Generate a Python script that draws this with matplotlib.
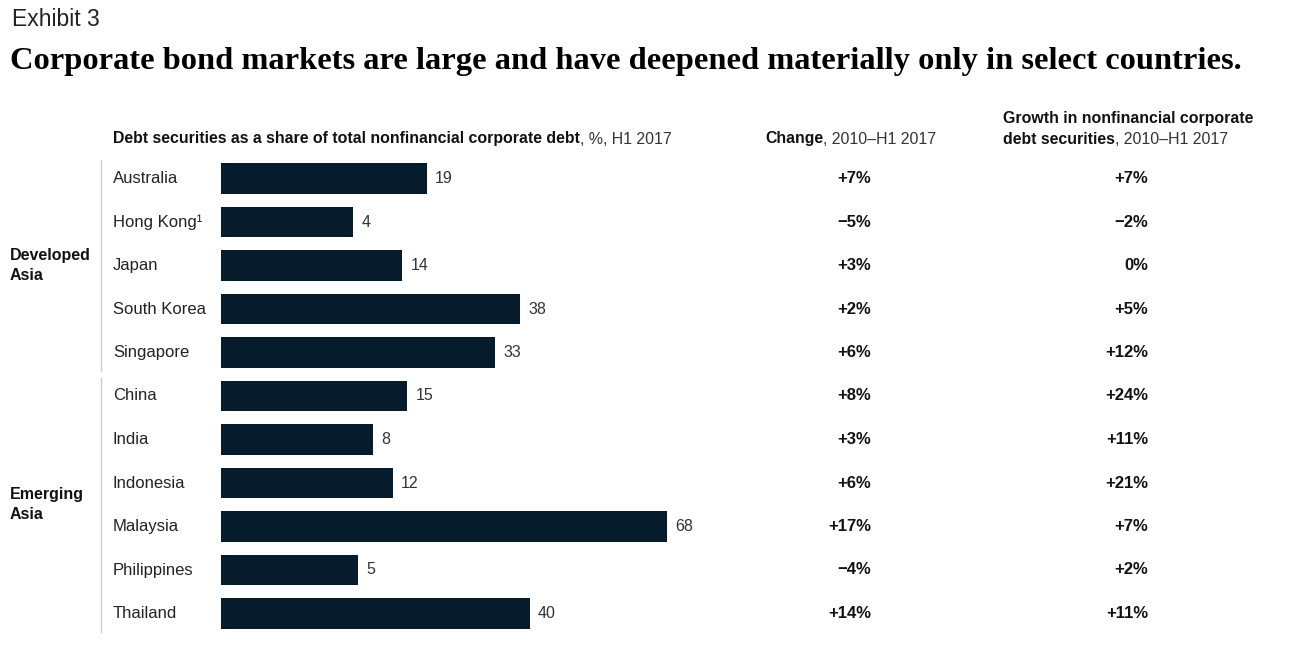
import matplotlib
matplotlib.use("Agg")
import matplotlib.pyplot as plt
import matplotlib.transforms as mtransforms

countries = ["Australia", "Hong Kong¹", "Japan", "South Korea", "Singapore",
             "China", "India", "Indonesia", "Malaysia", "Philippines", "Thailand"]
share = [19, 4, 14, 38, 33, 15, 8, 12, 68, 5, 40]
change = ["+7%", "−5%", "+3%", "+2%", "+6%", "+8%", "+3%", "+6%", "+17%", "−4%", "+14%"]
growth = ["+7%", "−2%", "0%", "+5%", "+12%", "+24%", "+11%", "+21%", "+7%", "+2%", "+11%"]
groups = ["Developed\nAsia", "Emerging\nAsia"]
group_sizes = [5, 6]

W, H = 1306, 656
BAR = "#061c2c"
SANS = ["Liberation Sans", "DejaVu Sans"]
SERIF = ["Liberation Serif", "DejaVu Serif"]
OFFSET = 23.0  # visual baseline offset of bars

fig = plt.figure(figsize=(W / 100, H / 100), dpi=100)
fig.patch.set_facecolor("white")

n = len(countries)
row_px = 43.5
top_c = 178.5
ax_top = top_c - row_px / 2
ax_h = row_px * n
ax = fig.add_axes([221 / W, 1 - (ax_top + ax_h) / H, (667 - 221) / W, ax_h / H])
ax.barh(range(n), [v + OFFSET for v in share], left=-OFFSET, height=0.69, color=BAR)
ax.set_xlim(-OFFSET, max(share))
ax.set_ylim(n - 0.5, -0.5)
ax.axis("off")

for i, v in enumerate(share):
    ax.annotate(str(v), (v, i), xytext=(6, 0), textcoords="offset points",
                va="center", ha="left", fontsize=11.5, color="#333333",
                family=SANS, annotation_clip=False)

tr = mtransforms.blended_transform_factory(fig.transFigure, ax.transData)
for i, c in enumerate(countries):
    fig.text(113 / W, i, c, transform=tr, va="center", ha="left",
             fontsize=12, color="#222222", family=SANS)
    fig.text(871 / W, i, change[i], transform=tr, va="center", ha="right",
             fontsize=12, fontweight="bold", color="#111111", family=SANS)
    fig.text(1148 / W, i, growth[i], transform=tr, va="center", ha="right",
             fontsize=12, fontweight="bold", color="#111111", family=SANS)

start = 0
for g, s in zip(groups, group_sizes):
    mid = start + (s - 1) / 2
    fig.text(10 / W, mid, g, transform=tr, va="center", ha="left",
             fontsize=11.5, fontweight="bold", color="#111111", family=SANS,
             linespacing=1.45)
    ax.plot([101 / W, 101 / W], [start - 0.42, start + s - 0.58], transform=tr,
            color="#cccccc", lw=1, clip_on=False)
    start += s

fig.text(12 / W, 1 - 20 / H, "Exhibit 3", va="center", ha="left",
         fontsize=16.5, color="#222222", family=SANS)
fig.text(10 / W, 1 - 61 / H, "Corporate bond markets are large and have deepened materially only in select countries.",
         va="center", ha="left", fontsize=23.4, fontweight="bold", color="#000000", family=SERIF)

renderer = fig.canvas.get_renderer()

def two_part(x_px, y_px, bold, regular):
    t = fig.text(x_px / W, 1 - y_px / H, bold, va="center", ha="left",
                 fontsize=11.4, fontweight="bold", color="#111111", family=SANS)
    bb = t.get_window_extent(renderer=renderer)
    fig.text(bb.x1 / W, 1 - y_px / H, regular, va="center", ha="left",
             fontsize=11.4, color="#333333", family=SANS)

two_part(113, 139, "Debt securities as a share of total nonfinancial corporate debt", ", %, H1 2017")
two_part(765, 139, "Change", ", 2010–H1 2017")
fig.text(1003 / W, 1 - 119 / H, "Growth in nonfinancial corporate", va="center", ha="left",
         fontsize=11.4, fontweight="bold", color="#111111", family=SANS)
two_part(1003, 139, "debt securities", ", 2010–H1 2017")

fig.savefig("out.png", dpi=100, facecolor="white")
